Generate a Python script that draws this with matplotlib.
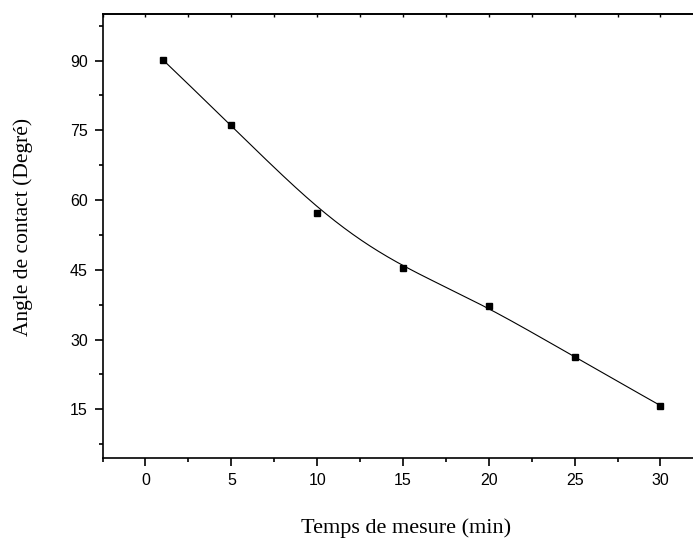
import numpy as np
import matplotlib.pyplot as plt
from matplotlib.ticker import MultipleLocator

# données
temps = [1, 5, 10, 15, 20, 25, 30]
angle = [90.2, 76.1, 57.2, 45.3, 37.2, 26.2, 15.8]


def bspline(px, py, n=300):
    """Courbe B-spline cubique (bornée) avec les points comme points de contrôle."""
    k = 3
    m = len(px)
    knots = np.concatenate([np.zeros(k), np.arange(m - k + 1), np.full(k, m - k)]).astype(float)
    t = np.linspace(0, m - k, n)
    t[-1] -= 1e-9

    def base(i, d, tt):
        if d == 0:
            return ((knots[i] <= tt) & (tt < knots[i + 1])).astype(float)
        a = np.zeros_like(tt)
        b = np.zeros_like(tt)
        if knots[i + d] != knots[i]:
            a = (tt - knots[i]) / (knots[i + d] - knots[i]) * base(i, d - 1, tt)
        if knots[i + d + 1] != knots[i + 1]:
            b = (knots[i + d + 1] - tt) / (knots[i + d + 1] - knots[i + 1]) * base(i + 1, d - 1, tt)
        return a + b

    B = np.array([base(i, k, t) for i in range(m)])
    return B.T @ np.array(px, float), B.T @ np.array(py, float)


fig = plt.figure(figsize=(6.93, 5.39), dpi=100)
ax = fig.add_axes([0.148, 0.150, 0.867, 0.824])

cx, cy = bspline(temps, angle)
ax.plot(cx, cy, color='black', lw=0.8)
ax.plot(temps, angle, 's', color='black', ms=4.8)

ax.set_xlim(-2.5, 32.5)
ax.set_ylim(4.5, 100)
ax.xaxis.set_major_locator(MultipleLocator(5))
ax.xaxis.set_minor_locator(MultipleLocator(2.5))
ax.yaxis.set_major_locator(MultipleLocator(15))
ax.yaxis.set_minor_locator(MultipleLocator(7.5))

for s in ax.spines.values():
    s.set_linewidth(1.2)

ax.tick_params(which='major', direction='out', length=6, width=1.2,
               labelsize=11.5, pad=4.5, top=False, right=False)
ax.tick_params(which='minor', direction='out', length=3, width=1.2, top=False, right=False)
for lab in ax.get_xticklabels() + ax.get_yticklabels():
    lab.set_fontfamily('Liberation Sans')

# petites graduations sur l'axe du haut
sec = ax.secondary_xaxis('top')
sec.xaxis.set_major_locator(MultipleLocator(2.5))
sec.tick_params(direction='in', length=2.5, width=1, labeltop=False)
sec.spines['top'].set_linewidth(1.2)

ax.set_xlabel('Temps de mesure (min)', family='Liberation Serif', fontsize=16)
ax.xaxis.set_label_coords(0.505, -0.169)
ax.xaxis.label.set_verticalalignment('baseline')
ax.set_ylabel('Angle de contact (Degré)', family='Liberation Serif', fontsize=15.5)
ax.yaxis.set_label_coords(-0.132, 0.52)
ax.yaxis.label.set_verticalalignment('center')

fig.savefig('out.png', dpi=100)
